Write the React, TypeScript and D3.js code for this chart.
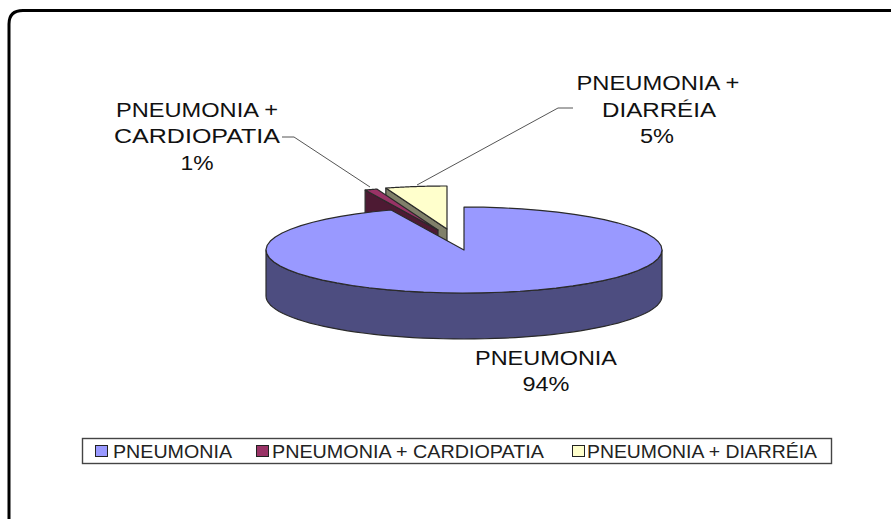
import React, {useEffect, useRef} from 'react'
import * as d3 from 'd3'

const categories = ['PNEUMONIA', 'PNEUMONIA + CARDIOPATIA', 'PNEUMONIA + DIARRÉIA']
const values = [94, 1, 5]
const topColors = ['#9999ff', '#993366', '#ffffcc']
const sideColors = ['#4d4d80', '#4d1a33', '#80806a']

const width = 891
const height = 519
const cx = 464
const cy = 250
const rx = 198
const ry = 43
const depth = 46
const stroke = '#2a2a2a'
const font = '"Liberation Sans", Arial, sans-serif'

// how far each slice is pulled out of the pie, in pixels
const pull = [[0, 0], [-26, -20], [-17, -21]]

const App = () => {
  const ref = useRef<SVGSVGElement>(null)

  useEffect(() => {
    const svg = d3.select(ref.current)
    svg.selectAll('*').remove()

    // frame, open on the right and the bottom
    svg.append('path')
      .attr('d', 'M9,519V24Q9,10.5 23,10.5H891')
      .attr('fill', 'none').attr('stroke', '#000').attr('stroke-width', 3)

    const arcs = d3.pie<number>().sort(null)(values)
    const line = d3.line()

    const at = (i: number, a: number, dy = 0): [number, number] => [
      cx + pull[i][0] + rx * Math.sin(a),
      cy + pull[i][1] - ry * Math.cos(a) + dy,
    ]
    const centre = (i: number, dy = 0): [number, number] => [cx + pull[i][0], cy + pull[i][1] + dy]
    const rim = (i: number, a0: number, a1: number, dy = 0) =>
      d3.range(0, 61).map(k => at(i, a0 + (a1 - a0) * k / 60, dy))

    const draw = (pts: [number, number][], fill: string) => svg.append('path')
      .attr('d', line(pts) + 'Z')
      .attr('fill', fill).attr('stroke', stroke).attr('stroke-width', 1.2).attr('stroke-linejoin', 'round')

    // slices at the back first, the big one goes over them
    ;[2, 1, 0].forEach(i => {
      const {startAngle: a0, endAngle: a1} = arcs[i]
      if (i === 0) {
        // front wall, only the lower half of the rim can be seen
        const s0 = Math.PI / 2
        const s1 = Math.PI * 3 / 2
        draw([...rim(i, s0, s1), ...rim(i, s1, s0, depth)], sideColors[i])
      } else {
        // cut face on the left of the slice
        draw([at(i, a0), centre(i), centre(i, depth), at(i, a0, depth)], sideColors[i])
      }
      draw([centre(i), ...rim(i, a0, a1)], topColors[i])
    })

    // leader lines
    const leaders = [[[282, 137], [294, 137], [370, 187]], [[573, 108], [558, 108], [417, 185]]] as [number, number][][]
    leaders.forEach(l => svg.append('path')
      .attr('d', line(l)).attr('fill', 'none').attr('stroke', '#555').attr('stroke-width', 1))

    const label = (x: number, y: number, text: string, w: number) => svg.append('text')
      .attr('x', x).attr('y', y).attr('text-anchor', 'middle')
      .attr('font-family', font).attr('font-size', 20).attr('fill', '#111')
      .attr('textLength', w).attr('lengthAdjust', 'spacingAndGlyphs')
      .text(text)

    label(546, 365, categories[0], 142)
    label(546, 391, `${values[0]}%`, 47)
    label(197, 117, 'PNEUMONIA +', 162)
    label(197, 143, 'CARDIOPATIA', 166)
    label(197, 170, `${values[1]}%`, 33)
    label(658, 90, 'PNEUMONIA +', 163)
    label(659, 117, 'DIARRÉIA', 114)
    label(657, 143, `${values[2]}%`, 34)

    // legend
    svg.append('rect')
      .attr('x', 82.5).attr('y', 438.5).attr('width', 749).attr('height', 25)
      .attr('fill', '#fff').attr('stroke', '#444').attr('stroke-width', 1.4)

    const swatchX = [95.5, 256.5, 572.5]
    const textX = [113, 272, 587]
    const textW = [119, 272, 230]
    categories.forEach((c, i) => {
      svg.append('rect')
        .attr('x', swatchX[i]).attr('y', 445.5).attr('width', 12).attr('height', 11)
        .attr('fill', topColors[i]).attr('stroke', '#222')
      svg.append('text')
        .attr('x', textX[i]).attr('y', 458)
        .attr('font-family', font).attr('font-size', 19).attr('fill', '#222')
        .attr('textLength', textW[i]).attr('lengthAdjust', 'spacingAndGlyphs')
        .text(c)
    })
  }, [])

  return <svg ref={ref} width={width} height={height}
    style={{position: 'absolute', left: 0, top: 0, background: '#fff'}} />
}

export default App
